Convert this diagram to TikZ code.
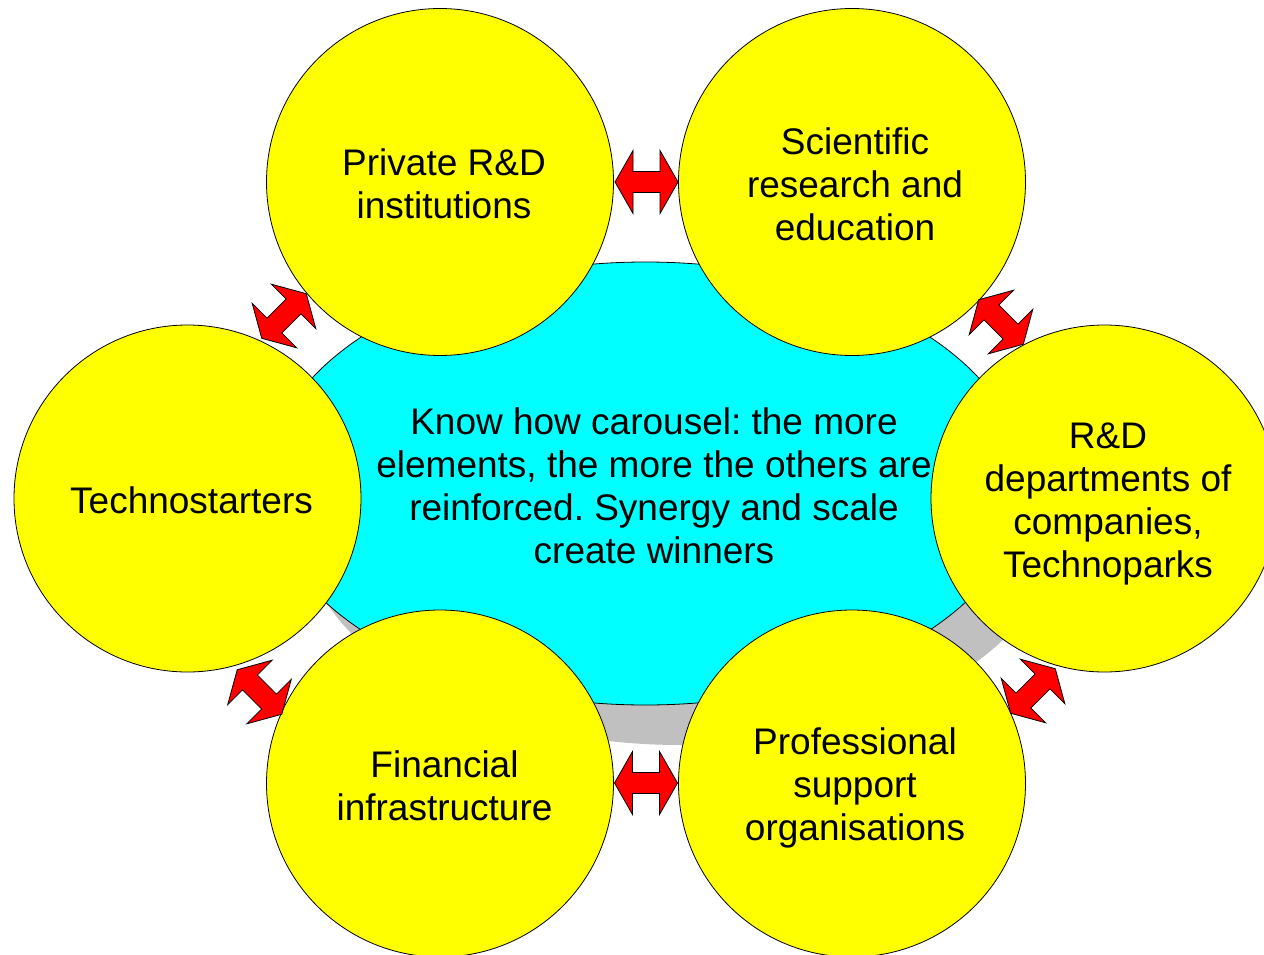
\documentclass[tikz,border=0pt]{standalone}
\usepackage{fontspec}
\setmainfont{Liberation Sans}
\usetikzlibrary{shapes.geometric}
\frenchspacing
\definecolor{discfill}{RGB}{0,255,255}
\definecolor{hubfill}{RGB}{255,255,0}
\definecolor{arrowfill}{RGB}{255,0,0}
\definecolor{shadowfill}{RGB}{192,192,192}
\tikzset{
  dblarrow/.pic={
    \path[dbl] (-31.5,0) -- (-13.5,-31.5) -- (-13.5,-10.5) -- (13.5,-10.5) -- (13.5,-31.5)
      -- (31.5,0) -- (13.5,31.5) -- (13.5,10.5) -- (-13.5,10.5) -- (-13.5,31.5) -- cycle;
  }
}
\begin{document}
\begin{tikzpicture}[x=1pt,y=-1pt,
  hub/.style={circle, draw=black, line width=0.8pt, fill=hubfill, minimum size=347pt, inner sep=0pt},
  core/.style={ellipse, draw=black, line width=0.8pt, fill=discfill, minimum width=758pt, minimum height=443pt, inner sep=0pt},
  shadow/.style={ellipse, fill=shadowfill, minimum width=758pt, minimum height=443pt, inner sep=0pt},
  lbl/.style={align=center, font=\frenchspacing\fontsize{37}{43}\selectfont, inner sep=0pt},
  dbl/.style={draw=black, line width=0.8pt, fill=arrowfill, line join=miter}
]
\useasboundingbox (0,0) rectangle (1264,955);
\clip (0,0) rectangle (1264,955);
\fill[white] (0,0) rectangle (1264,955);
% central carousel disc
\node[shadow] (base) at (680.5,523.5) {};
\node[core] (disc) at (645.5,483.5) {};
\node[lbl] (disctext) at (654,485.5) {Know how carousel: the more\\elements, the more the others are\\reinforced. Synergy and scale\\create winners};
% circles
\node[hub] (priv) at (440,182) {};
\node[hub] (sci) at (852,182) {};
\node[hub] (techno) at (187.5,498.5) {};
\node[hub] (rnd) at (1104.5,498.5) {};
\node[hub] (fin) at (440,783.5) {};
\node[hub] (prof) at (852,783.5) {};
% labels
\node[lbl] (privtext) at (444,184) {Private R\&D\\institutions};
\node[lbl] (scitext) at (855,184.5) {Scientific\\research and\\education};
\node[lbl] (technotext) at (191.5,500) {Technostarters};
\node[lbl] (rndtext) at (1108,504.5) {R\&D\\departments of\\companies,\\Technoparks};
\node[lbl] (fintext) at (444.5,785.5) {Financial\\infrastructure};
\node[lbl] (proftext) at (855,788) {Professional\\support\\organisations};
% double arrows between neighbours
\pic at (646.5,182) {dblarrow};
\pic at (646,783) {dblarrow};
\pic[rotate=45] at (284,316) {dblarrow};
\pic[rotate=-45] at (1001,322) {dblarrow};
\pic[rotate=-45] at (259.5,692) {dblarrow};
\pic[rotate=45] at (1033,691) {dblarrow};
\end{tikzpicture}
\end{document}
